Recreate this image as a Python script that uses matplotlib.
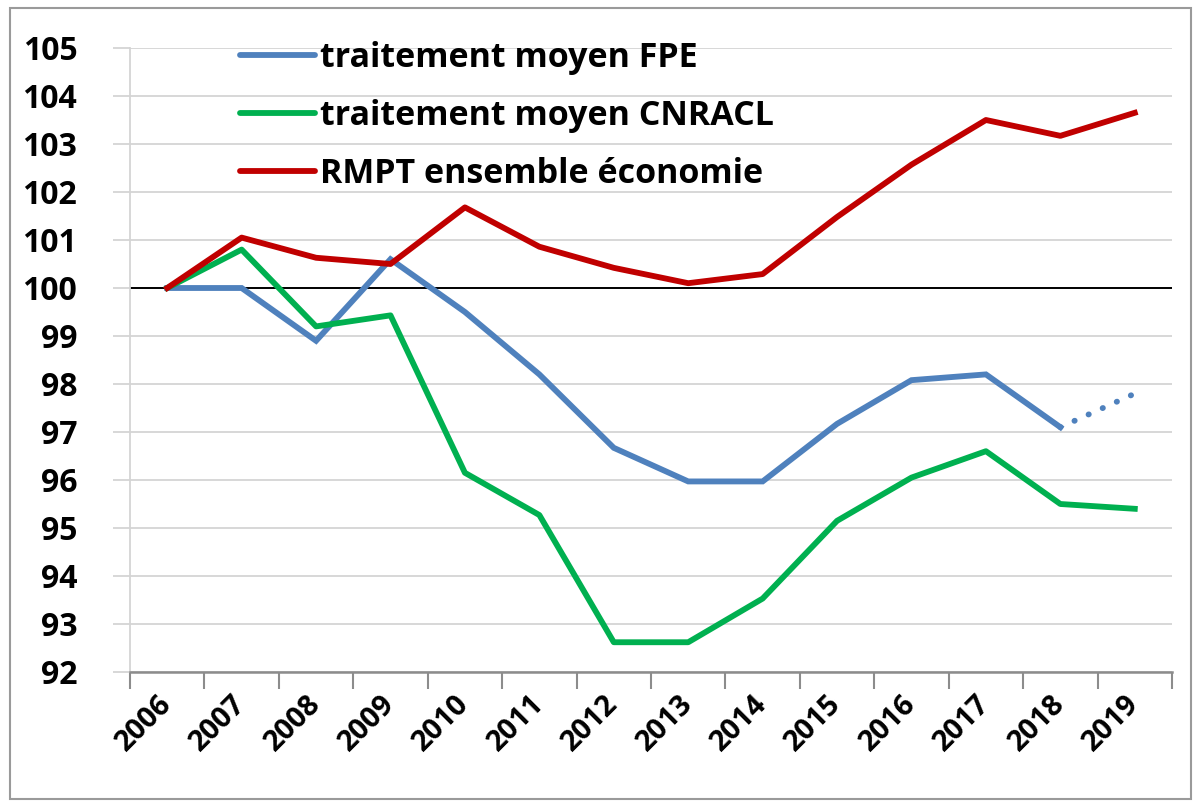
import matplotlib.pyplot as plt
from matplotlib.patches import Rectangle

years = ['2006', '2007', '2008', '2009', '2010', '2011', '2012',
         '2013', '2014', '2015', '2016', '2017', '2018', '2019']
fpe = [100.0, 100.0, 98.9, 100.6, 99.5, 98.2, 96.67, 95.97, 95.97,
       97.17, 98.08, 98.2, 97.1]
fpe_2019_est = 97.8
cnracl = [100.0, 100.8, 99.2, 99.43, 96.15, 95.27, 92.62, 92.62, 93.53,
          95.15, 96.05, 96.6, 95.5, 95.4]
rmpt = [100.0, 101.05, 100.63, 100.5, 101.68, 100.86, 100.42, 100.1,
        100.29, 101.48, 102.57, 103.5, 103.17, 103.65]

plt.rcParams['font.family'] = ['Open Sans', 'DejaVu Sans']

fig = plt.figure(figsize=(11.93, 8.01), dpi=100)
ax = fig.add_axes([130/1193, 1-672/801, (1172-130)/1193, (672-48)/801])

bleu, vert, rouge = '#4F81BD', '#00B050', '#C00000'
x = list(range(len(years)))

ax.axhline(100, color='black', lw=1.4, zorder=2)
ax.plot(x[:len(fpe)], fpe, color=bleu, lw=4.2, solid_joinstyle='miter',
        label='traitement moyen FPE', zorder=3)
ax.plot([x[len(fpe)-1], x[len(fpe)]], [fpe[-1], fpe_2019_est], color=bleu,
        lw=4.2, linestyle=(0, (0.05, 2.6)), dash_capstyle='round', zorder=3)
ax.plot(x, cnracl, color=vert, lw=4.2, label='traitement moyen CNRACL', zorder=3)
ax.plot(x, rmpt, color=rouge, lw=4.2, label='RMPT ensemble économie', zorder=3)

ax.set_xlim(-0.5, len(years)-0.5)
ax.set_ylim(92, 105)
ax.set_yticks(range(92, 106))
ax.yaxis.grid(True, color='#d4d4d4', lw=1.3)
ax.set_axisbelow(True)

ax.set_xticks([i - 0.5 for i in range(len(years)+1)])
ax.set_xticklabels([])
ax.set_xticks(x, minor=True)
ax.set_xticklabels(years, minor=True, rotation=45, ha='right', va='center',
                   rotation_mode='anchor', fontsize=21, fontweight='bold')
ax.tick_params(axis='x', which='minor', length=0, pad=20)
ax.tick_params(axis='x', which='major', length=12, width=1.5, color='#8c8c8c',
               direction='out')
ax.tick_params(axis='y', length=12, width=1.3, color='#d4d4d4', pad=26,
               labelsize=23)
for lab in ax.get_yticklabels():
    lab.set_fontweight('bold')

for s in ['top', 'right']:
    ax.spines[s].set_visible(False)
ax.spines['left'].set_color('#d4d4d4')
ax.spines['left'].set_linewidth(1.3)
ax.spines['bottom'].set_color('#8c8c8c')
ax.spines['bottom'].set_linewidth(1.8)

leg = ax.legend(loc='upper left', bbox_to_anchor=(223/1193, 1-24/801),
                bbox_transform=fig.transFigure, frameon=False,
                prop={'size': 24.5, 'weight': 'bold'}, handlelength=2.2,
                handletextpad=0.15, labelspacing=0.7, borderpad=0)
for line in leg.get_lines():
    line.set_solid_capstyle('round')

fig.patches.append(Rectangle((10/1193, 0.002), 1-12/1193, 1-10/801,
                             transform=fig.transFigure, fill=False,
                             edgecolor='#9a9a9a', lw=1.5))

fig.savefig('out.png', dpi=100)
